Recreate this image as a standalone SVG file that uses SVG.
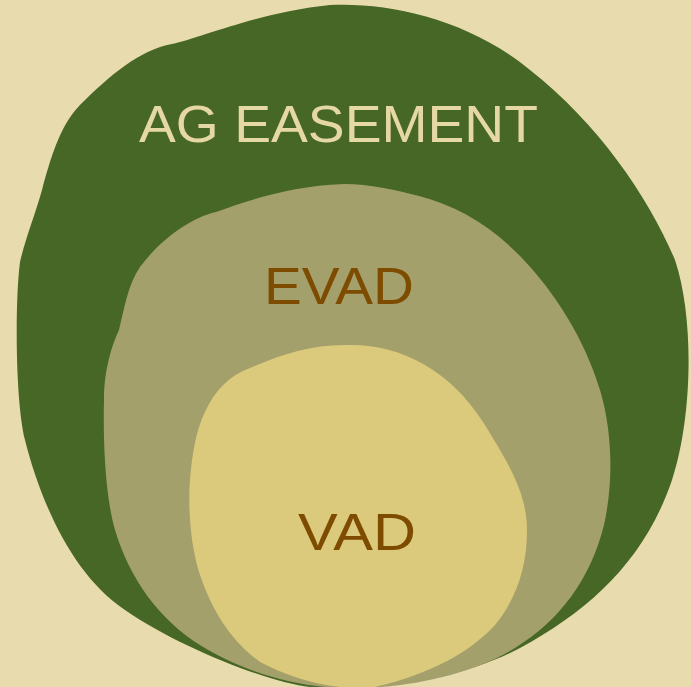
<svg xmlns="http://www.w3.org/2000/svg" width="691" height="687" viewBox="0 0 691 687">
  <style>
    .lbl { font-family: "Liberation Sans", Arial, sans-serif; font-size: 52px; }
    .light { fill: #e6d8a5; }
    .brown { fill: #7e4c00; }
  </style>
  <rect x="0" y="0" width="691" height="687" fill="#e8dbad"/>
  <g id="ag-easement">
    <path fill="#476726" d="M 330,5 C 390,2 470,20 530,70 C 600,125 650,200 675,260 C 695,320 692,420 672,480 C 645,560 590,610 520,648 C 455,682 370,692 310,687 C 270,683 180,648 125,610 C 72,575 40,500 25,440 C 15,400 15,300 20,262 C 25,240 35,215 42,190 C 50,160 60,125 80,105 C 110,75 140,50 172,44 C 200,38 260,12 330,5 Z"/>
    <text class="lbl light" x="139" y="142" textLength="399" lengthAdjust="spacingAndGlyphs">AG EASEMENT</text>
  </g>
  <g id="evad">
    <path fill="#a4a06b" d="M 344,184 C 370,184 395,190 419,196 C 455,205 490,225 520,256 C 555,292 585,340 600,390 C 612,430 614,480 604,525 C 590,580 560,620 515,648 C 470,676 400,690 340,688 C 290,686 240,670 200,645 C 160,620 130,580 115,530 C 105,495 103,440 104,400 C 104,370 112,345 119,330 C 125,305 128,285 140,267 C 160,240 190,218 216,212 C 250,200 290,186 344,184 Z"/>
    <text class="lbl brown" x="264" y="304" textLength="150" lengthAdjust="spacingAndGlyphs">EVAD</text>
  </g>
  <g id="vad">
    <path fill="#dbca7c" d="M 345,345 C 400,343 450,370 483,422 C 510,465 527,495 527,530 C 527,570 515,600 495,625 C 470,652 430,675 370,688 C 330,690 290,678 260,662 C 230,640 212,610 200,575 C 190,545 188,505 190,480 C 192,455 196,430 205,412 C 215,390 230,375 250,368 C 280,355 310,345 345,345 Z"/>
    <text class="lbl brown" x="298" y="550" textLength="118" lengthAdjust="spacingAndGlyphs">VAD</text>
  </g>
  <g id="connectors"/>
</svg>
